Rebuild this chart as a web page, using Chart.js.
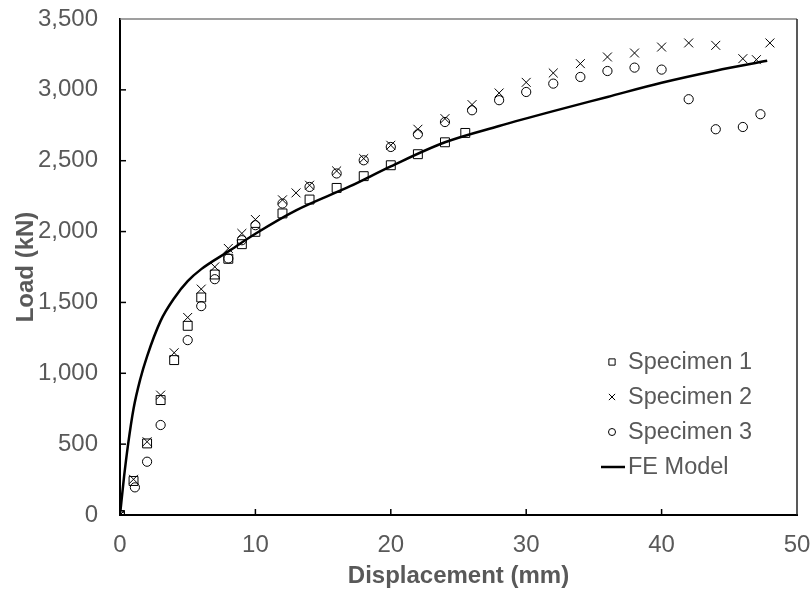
<!DOCTYPE html>
<html>
<head>
<meta charset="utf-8">
<script src="https://cdn.jsdelivr.net/npm/chart.js@4.4.1/dist/chart.umd.min.js"></script>
<style>
  html, body { margin: 0; padding: 0; background: #fff; }
  #wrap { width: 812px; height: 591px; }
</style>
</head>
<body>
<div id="wrap"><canvas id="myChart" width="812" height="591"></canvas></div>
<script>
// displacement (mm) / load (kN)
const spec1X = [0, 1, 2, 3, 4, 5, 6, 7, 8, 9, 10, 12, 14, 16, 18, 20, 22, 24, 25.5];
const spec1Y = [0, 240, 505, 811, 1093, 1335, 1535, 1697, 1808, 1911, 1998, 2128, 2226, 2308, 2391, 2468, 2546, 2630, 2696];

const spec2X = [0, 1, 2, 3, 4, 5, 6, 7, 8, 9, 10, 12, 13, 14, 16, 18, 20, 22, 24, 26, 28, 30, 32, 34, 36, 38, 40, 42, 44, 46, 47, 48];
const spec2Y = [0, 252, 517, 846, 1145, 1394, 1594, 1751, 1881, 1987, 2085, 2224, 2273, 2327, 2428, 2515, 2609, 2722, 2797, 2896, 2978, 3053, 3119, 3185, 3232, 3260, 3302, 3331, 3314, 3220, 3213, 3331];

const spec3X = [0, 1.1, 2, 3, 5, 6, 7, 8, 9, 10, 12, 14, 16, 18, 20, 22, 24, 26, 28, 30, 32, 34, 36, 38, 40, 42, 44, 46, 47.3];
const spec3Y = [0, 195, 376, 635, 1234, 1474, 1664, 1810, 1939, 2045, 2198, 2315, 2410, 2503, 2597, 2687, 2773, 2856, 2927, 2985, 3044, 3091, 3133, 3157, 3143, 2934, 2722, 2738, 2828];

const feX = [0, 0.3, 0.6, 1, 1.5, 2, 3, 4, 5, 6, 8, 10, 13, 17, 20, 24, 28, 32, 36, 40, 44, 47.8];
const feY = [0, 270, 500, 750, 960, 1120, 1370, 1530, 1650, 1735, 1860, 1985, 2150, 2320, 2460, 2630, 2745, 2850, 2950, 3050, 3135, 3205];

const xTicks = [0, 10, 20, 30, 40, 50];
const yTicks = [0, 500, 1000, 1500, 2000, 2500, 3000, 3500];

const toPts = (xs, ys) => xs.map((x, i) => ({ x: x, y: ys[i] }));

const FONT = "'Liberation Sans', Arial, sans-serif";
const GREY = "#595959";

const legendItems = [
  { label: "Specimen 1", style: "rect" },
  { label: "Specimen 2", style: "crossRot" },
  { label: "Specimen 3", style: "circle" },
  { label: "FE Model", style: "line" },
];

const framePlugin = {
  id: "frame",
  afterDatasetsDraw(chart) {
    const { ctx, chartArea: a, scales } = chart;
    ctx.save();
    // top and right border
    ctx.strokeStyle = "#7f7f7f";
    ctx.lineWidth = 1.5;
    ctx.beginPath();
    ctx.moveTo(a.left, a.top);
    ctx.lineTo(a.right, a.top);
    ctx.stroke();
    ctx.strokeStyle = "#222";
    ctx.beginPath();
    ctx.moveTo(a.right, a.top);
    ctx.lineTo(a.right, a.bottom);
    ctx.stroke();
    // inside tick marks
    ctx.strokeStyle = "#000";
    ctx.lineWidth = 1.5;
    xTicks.slice(1, -1).forEach(v => {
      const px = scales.x.getPixelForValue(v);
      ctx.beginPath();
      ctx.moveTo(px, a.bottom);
      ctx.lineTo(px, a.bottom - 6);
      ctx.stroke();
    });
    yTicks.slice(1, -1).forEach(v => {
      const py = scales.y.getPixelForValue(v);
      ctx.beginPath();
      ctx.moveTo(a.left, py);
      ctx.lineTo(a.left + 6, py);
      ctx.stroke();
    });
    // legend
    ctx.font = "23.5px " + FONT;
    ctx.textBaseline = "middle";
    legendItems.forEach((it, i) => {
      const y = 362 + i * 35;
      ctx.strokeStyle = "#000";
      if (it.style === "line") {
        ctx.lineWidth = 2.5;
        ctx.beginPath();
        ctx.moveTo(601, y);
        ctx.lineTo(625, y);
        ctx.stroke();
      } else {
        ctx.lineWidth = 1;
        ctx.fillStyle = "rgba(0,0,0,0)";
        Chart.helpers.drawPoint(ctx, { pointStyle: it.style, radius: it.style === "circle" ? 3.5 : 4.4, borderWidth: 1 }, 612, y);
      }
      ctx.fillStyle = GREY;
      ctx.fillText(it.label, 628, y + 1);
    });
    ctx.restore();
  }
};

const markerSet = (label, pts, style, r) => ({
  label: label,
  data: pts,
  showLine: false,
  pointStyle: style,
  pointRadius: r,
  pointHoverRadius: r,
  pointBorderColor: "#000",
  pointBackgroundColor: "rgba(0,0,0,0)",
  pointBorderWidth: 1,
});

const config = {
  type: "scatter",
  data: {
    datasets: [
      markerSet("Specimen 1", toPts(spec1X, spec1Y), "rect", 6.3),
      markerSet("Specimen 2", toPts(spec2X, spec2Y), "crossRot", 6.3),
      markerSet("Specimen 3", toPts(spec3X, spec3Y), "circle", 4.6),
      {
        label: "FE Model",
        data: toPts(feX, feY),
        showLine: true,
        borderColor: "#000",
        borderWidth: 2.5,
        pointRadius: 0,
        cubicInterpolationMode: "monotone",
      },
    ],
  },
  options: {
    responsive: false,
    animation: false,
    events: [],
    layout: { padding: { top: 19, right: 15, left: 0, bottom: 0 } },
    plugins: { legend: { display: false }, tooltip: { enabled: false } },
    scales: {
      x: {
        type: "linear",
        min: 0,
        max: 50,
        afterBuildTicks: s => { s.ticks = xTicks.map(v => ({ value: v })); },
        afterFit: s => { s.height = 76; s.paddingLeft = 0; s.paddingRight = 0; },
        grid: { display: false, drawTicks: false },
        border: { display: true, color: "#000", width: 2 },
        ticks: { color: GREY, font: { family: FONT, size: 24 }, padding: 16 },
        title: {
          display: true,
          text: "Displacement (mm)",
          color: GREY,
          font: { family: FONT, size: 24, weight: "bold" },
          padding: { top: 0, bottom: 0 },
        },
      },
      y: {
        type: "linear",
        min: 0,
        max: 3500,
        afterBuildTicks: s => { s.ticks = yTicks.map(v => ({ value: v })); },
        afterFit: s => { s.width = 120; s.paddingTop = 0; s.paddingBottom = 0; },
        grid: { display: false, drawTicks: false },
        border: { display: true, color: "#000", width: 2 },
        ticks: {
          color: GREY,
          font: { family: FONT, size: 24 },
          padding: 22,
          callback: v => v.toLocaleString("en-US"),
        },
        title: {
          display: true,
          text: "Load (kN)",
          color: GREY,
          font: { family: FONT, size: 24, weight: "bold" },
          padding: { top: 12, bottom: 0 },
        },
      },
    },
  },
  plugins: [framePlugin],
};

const myChart = new Chart(document.getElementById("myChart"), config);
</script>
</body>
</html>
